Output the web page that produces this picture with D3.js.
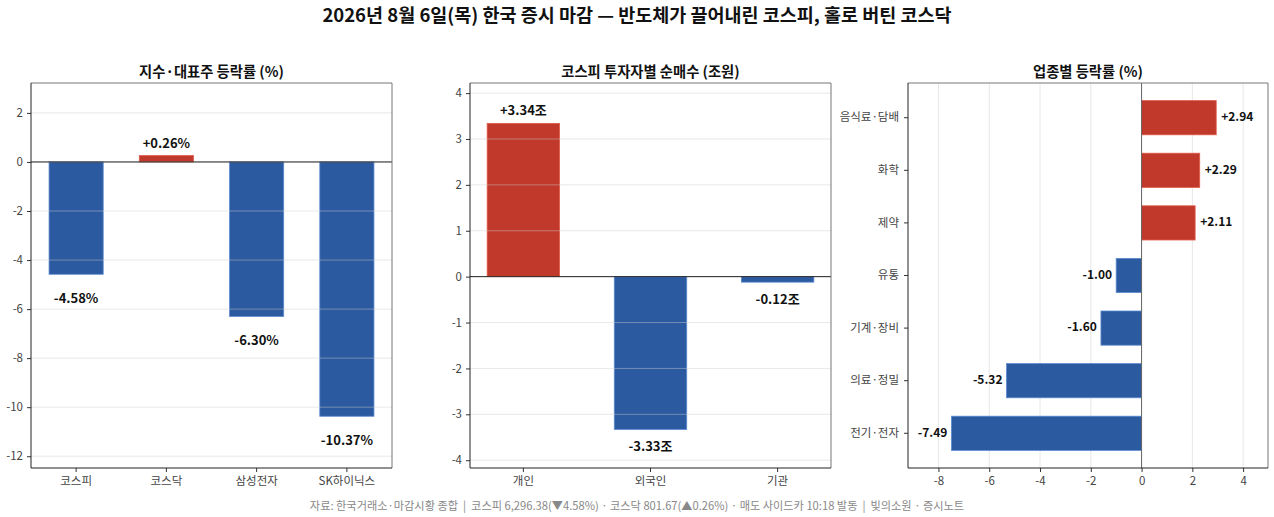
<!DOCTYPE html>
<html>
<head>
<meta charset="utf-8">
<script src="https://cdn.jsdelivr.net/npm/d3@7"></script>
<style>
  body { margin: 0; padding: 0; background: #fff; }
  text { font-family: "Noto Sans CJK KR", "Noto Sans", sans-serif; }
</style>
</head>
<body>
<svg id="chart" width="1274" height="517"></svg>
<script>
// --- data ---
var titleText = "2026년 8월 6일(목) 한국 증시 마감 — 반도체가 끌어내린 코스피, 홀로 버틴 코스닥";
var footText = "자료: 한국거래소·마감시황 종합  |  코스피 6,296.38(▼4.58%) · 코스닥 801.67(▲0.26%) · 매도 사이드카 10:18 발동  |  빛의소원 · 증시노트";

var idxTitle = "지수·대표주 등락률 (%)";
var idxNames = ["코스피", "코스닥", "삼성전자", "SK하이닉스"];
var idxValues = [-4.58, 0.26, -6.30, -10.37];
var idxTicks = [2, 0, -2, -4, -6, -8, -10, -12];

var invTitle = "코스피 투자자별 순매수 (조원)";
var invNames = ["개인", "외국인", "기관"];
var invValues = [3.34, -3.33, -0.12];
var invTicks = [4, 3, 2, 1, 0, -1, -2, -3, -4];

var secTitle = "업종별 등락률 (%)";
var secNames = ["음식료·담배", "화학", "제약", "유통", "기계·장비", "의료·정밀", "전기·전자"];
var secValues = [2.94, 2.29, 2.11, -1.00, -1.60, -5.32, -7.49];
var secTicks = [-8, -6, -4, -2, 0, 2, 4];

var RED = "#c0392b", BLUE = "#2b5aa0";
var plotTop = 83, plotBottom = 468;
var tickFmt = function (d) { return String(d); };

var svg = d3.select("#chart");

svg.append("text")
    .attr("x", 637).attr("y", 22)
    .attr("text-anchor", "middle")
    .attr("font-size", 18.5).attr("font-weight", "bold").attr("fill", "#111")
    .text(titleText);

svg.append("text")
    .attr("x", 637).attr("y", 510)
    .attr("text-anchor", "middle")
    .attr("font-size", 11.2).attr("fill", "#888")
    .attr("xml:space", "preserve")
    .text(footText);

function frame(g, x0, x1) {
    g.append("line").attr("x1", x0).attr("x2", x1).attr("y1", plotTop).attr("y2", plotTop).attr("stroke", "#777");
    g.append("line").attr("x1", x1).attr("x2", x1).attr("y1", plotTop).attr("y2", plotBottom).attr("stroke", "#777");
    g.append("line").attr("x1", x0).attr("x2", x0).attr("y1", plotTop).attr("y2", plotBottom).attr("stroke", "#222");
    g.append("line").attr("x1", x0).attr("x2", x1).attr("y1", plotBottom).attr("y2", plotBottom).attr("stroke", "#222");
}

function subTitle(g, x0, x1, t) {
    g.append("text")
        .attr("x", (x0 + x1) / 2).attr("y", 77)
        .attr("text-anchor", "middle")
        .attr("font-size", 14.3).attr("font-weight", "bold").attr("fill", "#111")
        .text(t);
}

function styleAxis(a) {
    a.select(".domain").remove();
    a.selectAll(".tick line").attr("stroke", "#333");
    a.selectAll(".tick text").attr("fill", "#444").attr("font-size", 11.5)
        .attr("font-family", "'Noto Sans CJK KR', 'Noto Sans', sans-serif");
}

// vertical bar panel
function vPanel(x0, x1, names, values, ticks, domain, pIn, pOut, unit, negOff) {
    var g = svg.append("g");
    var x = d3.scaleBand().domain(names).range([x0, x1]).paddingInner(pIn).paddingOuter(pOut);
    var y = d3.scaleLinear().domain(domain).range([plotBottom, plotTop]);

    g.selectAll("rect.bar").data(values).enter().append("rect")
        .attr("x", function (d, i) { return x(names[i]); })
        .attr("width", x.bandwidth())
        .attr("y", function (d) { return y(Math.max(0, d)); })
        .attr("height", function (d) { return Math.abs(y(d) - y(0)); })
        .attr("fill", function (d) { return d >= 0 ? RED : BLUE; })
        .attr("stroke", function (d) { return d >= 0 ? "#e05a4a" : "#5b8ad0"; })
        .attr("stroke-width", 0.8);

    g.selectAll("line.grid").data(ticks).enter().append("line")
        .attr("x1", x0).attr("x2", x1)
        .attr("y1", function (d) { return y(d); }).attr("y2", function (d) { return y(d); })
        .attr("stroke", "#ccc").attr("stroke-opacity", 0.45);

    g.append("line").attr("x1", x0).attr("x2", x1).attr("y1", y(0)).attr("y2", y(0))
        .attr("stroke", "#222").attr("stroke-width", 1);

    g.selectAll("text.val").data(values).enter().append("text")
        .attr("x", function (d, i) { return x(names[i]) + x.bandwidth() / 2; })
        .attr("y", function (d) { return d >= 0 ? y(d) - 8 : y(d) + negOff; })
        .attr("text-anchor", "middle")
        .attr("dominant-baseline", function (d) { return d >= 0 ? "auto" : "middle"; })
        .attr("font-size", 13).attr("font-weight", "bold").attr("fill", "#111")
        .text(function (d) { return (d >= 0 ? "+" : "") + d.toFixed(2) + unit; });

    styleAxis(g.append("g").attr("transform", "translate(" + x0 + ",0)")
        .call(d3.axisLeft(y).tickValues(ticks).tickSize(4).tickPadding(4).tickFormat(tickFmt)));
    styleAxis(g.append("g").attr("transform", "translate(0," + plotBottom + ")")
        .call(d3.axisBottom(x).tickSize(4).tickPadding(5)));

    frame(g, x0, x1);
    return g;
}

var g1 = vPanel(31, 392, idxNames, idxValues, idxTicks, [-12.48, 3.22], 0.4, 0.2, "%", 25);
subTitle(g1, 31, 392, idxTitle);

var g2 = vPanel(470, 831, invNames, invValues, invTicks, [-4.17, 4.22], 0.43, 0.135, "조", 18);
subTitle(g2, 470, 831, invTitle);

// horizontal bar panel
(function () {
    var x0 = 908, x1 = 1268;
    var g = svg.append("g");
    var x = d3.scaleLinear().domain([-9.2, 4.98]).range([x0, x1]);
    var y = d3.scaleBand().domain(secNames).range([plotTop, plotBottom]).paddingInner(0.35).paddingOuter(0.335);

    g.selectAll("line.grid").data(secTicks).enter().append("line")
        .attr("x1", function (d) { return x(d); }).attr("x2", function (d) { return x(d); })
        .attr("y1", plotTop).attr("y2", plotBottom)
        .attr("stroke", "#ddd").attr("stroke-opacity", 0.7);

    g.selectAll("rect.bar").data(secValues).enter().append("rect")
        .attr("y", function (d, i) { return y(secNames[i]); })
        .attr("height", y.bandwidth())
        .attr("x", function (d) { return x(Math.min(0, d)); })
        .attr("width", function (d) { return Math.abs(x(d) - x(0)); })
        .attr("fill", function (d) { return d >= 0 ? RED : BLUE; })
        .attr("stroke", function (d) { return d >= 0 ? "#e05a4a" : "#5b8ad0"; })
        .attr("stroke-width", 0.8);

    g.append("line").attr("x1", x(0)).attr("x2", x(0)).attr("y1", plotTop).attr("y2", plotBottom)
        .attr("stroke", "#666").attr("stroke-width", 1);

    g.selectAll("text.val").data(secValues).enter().append("text")
        .attr("x", function (d) { return d >= 0 ? x(d) + 5 : x(d) - 4; })
        .attr("y", function (d, i) { return y(secNames[i]) + y.bandwidth() / 2; })
        .attr("text-anchor", function (d) { return d >= 0 ? "start" : "end"; })
        .attr("dominant-baseline", "middle")
        .attr("font-size", 12).attr("font-weight", "bold").attr("fill", "#111")
        .text(function (d) { return (d >= 0 ? "+" : "") + d.toFixed(2); });

    styleAxis(g.append("g").attr("transform", "translate(" + x0 + ",0)")
        .call(d3.axisLeft(y).tickSize(4).tickPadding(5)));
    styleAxis(g.append("g").attr("transform", "translate(0," + plotBottom + ")")
        .call(d3.axisBottom(x).tickValues(secTicks).tickSize(4).tickPadding(5).tickFormat(tickFmt)));

    frame(g, x0, x1);
    subTitle(g, x0, x1, secTitle);
})();
</script>
</body>
</html>
